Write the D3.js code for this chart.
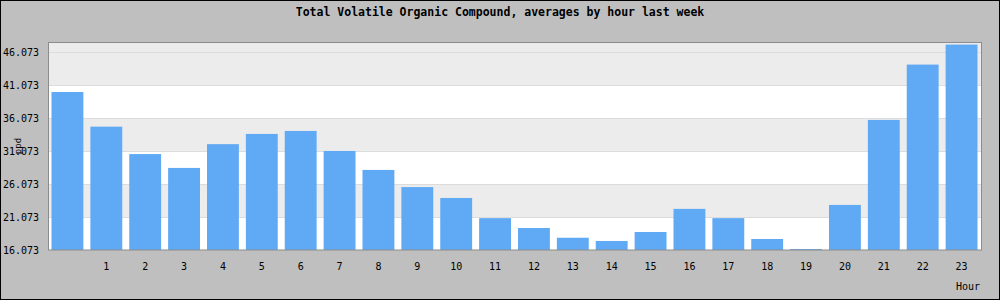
<!DOCTYPE html>
<html>
<head>
<meta charset="utf-8">
<script src="https://cdn.jsdelivr.net/npm/d3@7"></script>
<style>
  body { margin: 0; background: #fff; }
  svg { display: block; }
  text { font-family: "DejaVu Sans Mono", monospace; fill: #000; }
</style>
</head>
<body>
<div id="chart"></div>
<script>
const hours = [0, 1, 2, 3, 4, 5, 6, 7, 8, 9, 10, 11, 12, 13, 14, 15, 16, 17, 18, 19, 20, 21, 22, 23];
const hourLabels = ["", "1", "2", "3", "4", "5", "6", "7", "8", "9", "10", "11", "12", "13", "14", "15", "16", "17", "18", "19", "20", "21", "22", "23"];
const tvocValues = [40.0, 34.75, 30.6, 28.5, 32.1, 33.65, 34.1, 31.07, 28.2, 25.6, 23.95, 20.9,
  19.4, 17.93, 17.44, 18.8, 22.3, 20.9, 17.74, 16.22, 22.9, 35.77, 44.15, 47.18];
const yTicks = [16.073, 21.073, 26.073, 31.073, 36.073, 41.073, 46.073];
const yMax = 47.57;

const width = 1000;
const height = 300;
const margin = { top: 42, right: 19, bottom: 50, left: 48 };
const plotW = width - margin.left - margin.right;
const plotH = height - margin.top - margin.bottom;

const svg = d3.select("#chart")
  .append("svg")
  .attr("width", width)
  .attr("height", height);

svg.append("rect")
  .attr("x", 0.5)
  .attr("y", 0.5)
  .attr("width", width - 1)
  .attr("height", height - 1)
  .attr("fill", "#bfbfbf")
  .attr("stroke", "#000");

svg.append("text")
  .attr("x", width / 2)
  .attr("y", 16)
  .attr("text-anchor", "middle")
  .style("font-size", "11.5px")
  .style("font-weight", "bold")
  .text("Total Volatile Organic Compound, averages by hour last week");

const chart = svg.append("g")
  .attr("transform", `translate(${margin.left}, ${margin.top})`);

const x = d3.scaleBand()
  .domain(hours)
  .range([0, plotW])
  .paddingInner(0.18)
  .paddingOuter(0.09);

const y = d3.scaleLinear()
  .domain([yTicks[0], yMax])
  .range([plotH, 0]);

// plot background: grey, with white bands every other tick interval
chart.append("rect")
  .attr("width", plotW)
  .attr("height", plotH)
  .attr("fill", "#ececec");

chart.selectAll(".band")
  .data(yTicks.slice(0, -1).filter((d, i) => i % 2 === 0))
  .enter()
  .append("rect")
  .attr("class", "band")
  .attr("x", 0)
  .attr("width", plotW)
  .attr("y", (d) => y(d + 5))
  .attr("height", (d) => y(d) - y(d + 5))
  .attr("fill", "#fff");

chart.selectAll(".grid")
  .data(yTicks.slice(1))
  .enter()
  .append("line")
  .attr("class", "grid")
  .attr("x1", 0)
  .attr("x2", plotW)
  .attr("y1", (d) => Math.round(y(d)) + 0.5)
  .attr("y2", (d) => Math.round(y(d)) + 0.5)
  .attr("stroke", "#dcdcdc");

chart.selectAll(".bar")
  .data(tvocValues)
  .enter()
  .append("rect")
  .attr("class", "bar")
  .attr("x", (d, i) => x(hours[i]))
  .attr("width", x.bandwidth())
  .attr("y", (d) => y(d))
  .attr("height", (d) => plotH - y(d))
  .attr("fill", "#60a9f5");

chart.append("rect")
  .attr("x", 0.5)
  .attr("y", 0.5)
  .attr("width", plotW)
  .attr("height", plotH - 0.5)
  .attr("fill", "none")
  .attr("stroke", "#8c8c8c");

const yAxis = chart.append("g")
  .call(d3.axisLeft(y).tickValues(yTicks).tickSize(0).tickPadding(9).tickFormat(d3.format(".3f")));
yAxis.select(".domain").remove();
yAxis.selectAll("text")
  .style("font-family", "DejaVu Sans Mono, monospace")
  .style("font-size", "10px");

const xAxis = chart.append("g")
  .attr("transform", `translate(0, ${plotH})`)
  .call(d3.axisBottom(x).tickSize(0).tickPadding(13).tickFormat((d, i) => hourLabels[i]));
xAxis.select(".domain").remove();
xAxis.selectAll("text")
  .style("font-family", "DejaVu Sans Mono, monospace")
  .style("font-size", "10px");

svg.append("text")
  .attr("x", margin.left + plotW - 1)
  .attr("y", 290)
  .attr("text-anchor", "end")
  .style("font-size", "10px")
  .text("Hour");

svg.append("text")
  .attr("transform", `translate(21, ${margin.top + plotH / 2}) rotate(-90)`)
  .attr("text-anchor", "middle")
  .style("font-size", "9px")
  .text("ppd");
</script>
</body>
</html>
